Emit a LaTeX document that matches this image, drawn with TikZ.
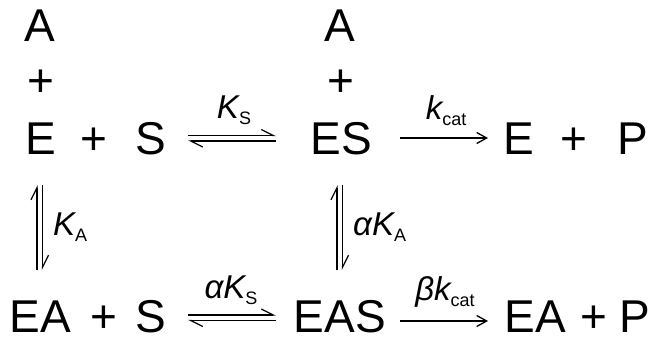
\documentclass[tikz,border=0pt]{standalone}
\usepackage{fontspec}
\setmainfont{Liberation Sans}
\usetikzlibrary{arrows.meta}
\newcommand{\rlbl}[2]{{\fontsize{33}{36}\selectfont\itshape #1}{\fontsize{18}{18}\selectfont\raisebox{-6pt}{#2}}}
\tikzset{
  sp/.style={inner sep=0pt, anchor=base, font=\fontsize{46}{50}\selectfont},
  lb/.style={inner sep=0pt, anchor=base},
  lbw/.style={inner sep=0pt, anchor=base west},
  harp/.style={line width=1.3pt, -{Straight Barb[left,length=12pt,width=12pt,line width=1.3pt]}},
  fwd/.style={line width=1.3pt, -{Straight Barb[length=10pt,width=11pt,line width=1.3pt]}},
}
\begin{document}
\begin{tikzpicture}[x=1pt,y=-1pt]
\useasboundingbox (0,0) rectangle (650,339);
% top row
\node[sp] (A1) at (39.5,42) {A};
\node[sp] (p1) at (40.5,97) {+};
\node[sp] (E1) at (41,155) {E};
\node[sp] (p2) at (93.5,155) {+};
\node[sp] (S1) at (151,155) {S};
\node[sp] (A2) at (339.5,42) {A};
\node[sp] (p3) at (341,97) {+};
\node[sp] (ES) at (341,155) {ES};
\node[sp] (E2) at (519,155) {E};
\node[sp] (p4) at (574,155) {+};
\node[sp] (P1) at (632.5,155) {P};
% bottom row
\node[sp] (EA1) at (40.5,332) {EA};
\node[sp] (p5) at (103.5,332) {+};
\node[sp] (S2) at (151,332) {S};
\node[sp] (EAS) at (340,332) {EAS};
\node[sp] (EA2) at (535.5,332) {EA};
\node[sp] (p6) at (594,332) {+};
\node[sp] (P2) at (635,332) {P};
% arrow end points
\coordinate (h1a) at (188,135.5); \coordinate (h1b) at (276,135.5);
\coordinate (h2a) at (188,141);   \coordinate (h2b) at (276,141);
\coordinate (h3a) at (188,315);   \coordinate (h3b) at (276,315);
\coordinate (h4a) at (188,320.5); \coordinate (h4b) at (276,320.5);
\coordinate (v1a) at (37,185);  \coordinate (v1b) at (37,270);
\coordinate (v2a) at (42.5,185);  \coordinate (v2b) at (42.5,270);
\coordinate (v3a) at (337,185); \coordinate (v3b) at (337,270);
\coordinate (v4a) at (342.5,185); \coordinate (v4b) at (342.5,270);
\coordinate (f1a) at (400,138); \coordinate (f1b) at (488,138);
\coordinate (f2a) at (400,321); \coordinate (f2b) at (488,321);
% harpoons
\draw[harp] (h1a) -- (h1b);
\draw[harp] (h2b) -- (h2a);
\draw[harp] (h3a) -- (h3b);
\draw[harp] (h4b) -- (h4a);
\draw[harp] (v1b) -- (v1a);
\draw[harp] (v2a) -- (v2b);
\draw[harp] (v3b) -- (v3a);
\draw[harp] (v4a) -- (v4b);
\draw[fwd] (f1a) -- (f1b);
\draw[fwd] (f2a) -- (f2b);
% labels
\node[lb] (lKS) at (234,119) {\rlbl{K}{S}};
\node[lb] (lkc) at (446,120) {\rlbl{k}{cat}};
\node[lb] (laKS) at (231,298) {\rlbl{αK}{S}};
\node[lb] (lbkc) at (445,300) {\rlbl{βk}{cat}};
\node[lbw] (lKA) at (53,235) {\rlbl{K}{A}};
\node[lbw] (laKA) at (353,235) {\rlbl{αK}{A}};
\end{tikzpicture}
\end{document}
